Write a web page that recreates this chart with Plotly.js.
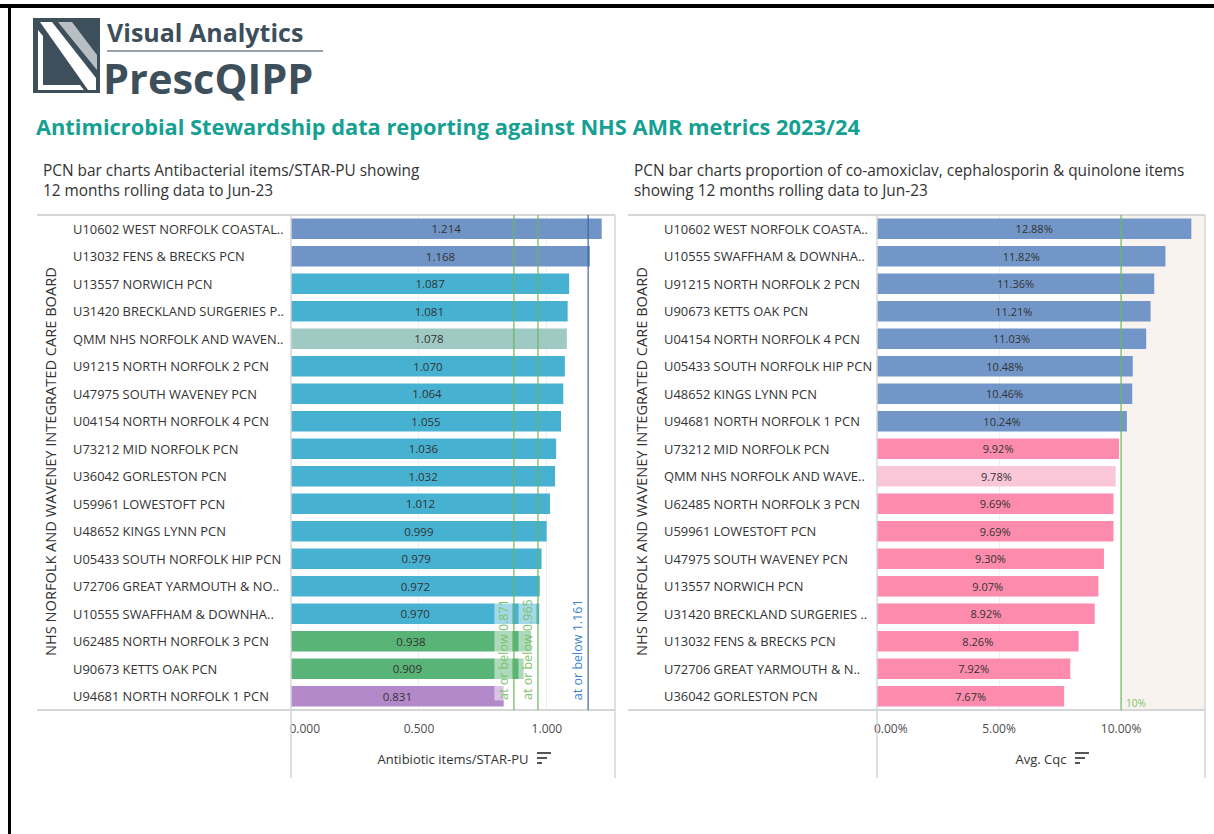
<!DOCTYPE html>
<html>
<head>
<meta charset="utf-8">
<script src="https://cdn.plot.ly/plotly-3.0.1.min.js"></script>
<style>
  html, body { margin: 0; padding: 0; background: #ffffff; }
  #chart { width: 1214px; height: 834px; }
</style>
</head>
<body>
<div id="chart"></div>
<script>
// ---------------- DATA ----------------
const leftCategories = [
  "U10602 WEST NORFOLK COASTAL..",
  "U13032 FENS & BRECKS PCN",
  "U13557 NORWICH PCN",
  "U31420 BRECKLAND SURGERIES P..",
  "QMM NHS NORFOLK AND WAVEN..",
  "U91215 NORTH NORFOLK 2 PCN",
  "U47975 SOUTH WAVENEY PCN",
  "U04154 NORTH NORFOLK 4 PCN",
  "U73212 MID NORFOLK PCN",
  "U36042 GORLESTON PCN",
  "U59961 LOWESTOFT PCN",
  "U48652 KINGS LYNN PCN",
  "U05433 SOUTH NORFOLK HIP PCN",
  "U72706 GREAT YARMOUTH & NO..",
  "U10555 SWAFFHAM & DOWNHA..",
  "U62485 NORTH NORFOLK 3 PCN",
  "U90673 KETTS OAK PCN",
  "U94681 NORTH NORFOLK 1 PCN"
];
const leftValues = [1.214, 1.168, 1.087, 1.081, 1.078, 1.070, 1.064, 1.055, 1.036,
                    1.032, 1.012, 0.999, 0.979, 0.972, 0.970, 0.938, 0.909, 0.831];
const leftGroups = ["above", "above", "mid", "mid", "icb", "mid", "mid", "mid", "mid",
                    "mid", "mid", "mid", "mid", "mid", "mid", "green", "green", "purple"];
const leftThresholds = [0.871, 0.965, 1.161];
const leftThresholdLabels = ["at or below 0.871", "at or below 0.965", "at or below 1.161"];
const leftTickVals = [0, 0.5, 1.0];
const leftTickText = ["\u2007\u2007\u2007\u20070.000", "0.500", "1.000"];

const rightCategories = [
  "U10602 WEST NORFOLK COASTA..",
  "U10555 SWAFFHAM & DOWNHA..",
  "U91215 NORTH NORFOLK 2 PCN",
  "U90673 KETTS OAK PCN",
  "U04154 NORTH NORFOLK 4 PCN",
  "U05433 SOUTH NORFOLK HIP PCN",
  "U48652 KINGS LYNN PCN",
  "U94681 NORTH NORFOLK 1 PCN",
  "U73212 MID NORFOLK PCN",
  "QMM NHS NORFOLK AND WAVE..",
  "U62485 NORTH NORFOLK 3 PCN",
  "U59961 LOWESTOFT PCN",
  "U47975 SOUTH WAVENEY PCN",
  "U13557 NORWICH PCN",
  "U31420 BRECKLAND SURGERIES ..",
  "U13032 FENS & BRECKS PCN",
  "U72706 GREAT YARMOUTH & N..",
  "U36042 GORLESTON PCN"
];
const rightValues = [12.88, 11.82, 11.36, 11.21, 11.03, 10.48, 10.46, 10.24, 9.92,
                     9.78, 9.69, 9.69, 9.30, 9.07, 8.92, 8.26, 7.92, 7.67];
const rightGroups = ["above", "above", "above", "above", "above", "above", "above", "above", "below",
                     "icb", "below", "below", "below", "below", "below", "below", "below", "below"];
const rightThreshold = 10;
const rightThresholdLabel = "10%";
const rightTickVals = [0, 5, 10];
const rightTickText = ["\u2007\u2007\u2007\u20070.00%", "5.00%", "10.00%"];

// ---------------- STYLE ----------------
const leftColors = { above: "#7094c6", mid: "#47b1d1", icb: "#9fc9c3", green: "#58b477", purple: "#b389ca" };
const rightColors = { above: "#7196c7", below: "#fc8bae", icb: "#f9c7d8" };

const W = 1214, H = 834;
const X = p => p / W;
const Y = p => 1 - p / H;
const FONT = "Open Sans, Noto Sans, sans-serif";
const LINE = "#d6d6d6";

const plotTop = 215, plotBottom = 710, axisBottom = 778;
const leftX0 = 291, leftX1 = 615, rightX0 = 877, rightX1 = 1205;
const leftMax = 1.266, rightMax = 13.44;

const traces = [
  {
    type: "bar", orientation: "h",
    y: leftCategories, x: leftValues,
    xaxis: "x", yaxis: "y",
    marker: { color: leftGroups.map(g => leftColors[g]) },
    width: 0.74,
    text: leftValues.map(v => v.toFixed(3)),
    textposition: "inside", insidetextanchor: "middle",
    insidetextfont: { family: FONT, size: 11.5, color: "#333333" },
    constraintext: "none",
    hoverinfo: "y+x", showlegend: false
  },
  {
    type: "bar", orientation: "h",
    y: rightCategories, x: rightValues,
    xaxis: "x2", yaxis: "y2",
    marker: { color: rightGroups.map(g => rightColors[g]) },
    width: 0.74,
    text: rightValues.map(v => v.toFixed(2) + "%"),
    textposition: "inside", insidetextanchor: "middle",
    insidetextfont: { family: FONT, size: 11, color: "#333333" },
    constraintext: "none",
    hoverinfo: "y+x", showlegend: false
  }
];

const shapes = [];
const annotations = [];

// outer black frame (top and left)
shapes.push({ type: "rect", xref: "paper", yref: "paper", x0: X(0), x1: X(W), y0: Y(8), y1: Y(4), fillcolor: "#000", line: { width: 0 } });
shapes.push({ type: "rect", xref: "paper", yref: "paper", x0: X(8), x1: X(11), y0: Y(H), y1: Y(4), fillcolor: "#000", line: { width: 0 } });

// logo icon
const logoDark = "#3e4f5c";
shapes.push({ type: "rect", xref: "paper", yref: "paper", x0: X(33), x1: X(100), y0: Y(93), y1: Y(18), fillcolor: logoDark, line: { width: 0 } });
function pathPx(pts) {
  return "M" + pts.map(p => X(p[0]) + "," + Y(p[1])).join(" L") + " Z";
}
shapes.push({ type: "path", xref: "paper", yref: "paper", path: pathPx([[40, 22], [52, 22], [96, 78], [96, 90], [88, 90]]), fillcolor: "#ffffff", line: { width: 0 } });
shapes.push({ type: "path", xref: "paper", yref: "paper", path: pathPx([[58, 22], [72, 22], [97, 55], [97, 70]]), fillcolor: "#b7bec4", line: { width: 0 } });
shapes.push({ type: "path", xref: "paper", yref: "paper", path: pathPx([[38, 30], [43, 36], [43, 85], [80, 85], [84, 90], [38, 90]]), fillcolor: "#ffffff", line: { width: 0 } });
shapes.push({ type: "line", xref: "paper", yref: "paper", x0: X(107), x1: X(323), y0: Y(51), y1: Y(51), line: { color: "#9aa3aa", width: 2 } });
annotations.push({ xref: "paper", yref: "paper", x: X(105), y: Y(32), xanchor: "left", yanchor: "middle", showarrow: false,
  text: "<b>Visual Analytics</b>", font: { family: FONT, size: 25, color: logoDark } });
annotations.push({ xref: "paper", yref: "paper", x: X(101), y: Y(78), xanchor: "left", yanchor: "middle", showarrow: false,
  text: "<b>PrescQIPP</b>", font: { family: FONT, size: 41.5, color: logoDark } });

// subtitles
annotations.push({ xref: "paper", yref: "paper", x: X(41), y: Y(180), xanchor: "left", yanchor: "middle", align: "left", showarrow: false,
  text: "PCN bar charts Antibacterial items/STAR-PU showing<br>12 months rolling data to Jun-23", font: { family: FONT, size: 15.4, color: "#333333" } });
annotations.push({ xref: "paper", yref: "paper", x: X(632), y: Y(180), xanchor: "left", yanchor: "middle", align: "left", showarrow: false,
  text: "PCN bar charts proportion of co-amoxiclav, cephalosporin &amp; quinolone items<br>showing 12 months rolling data to Jun-23", font: { family: FONT, size: 15.4, color: "#333333" } });

// frame lines for both panes
function paneLines(lx, x0, x1) {
  shapes.push({ type: "line", xref: "paper", yref: "paper", x0: X(lx), x1: X(x1), y0: Y(plotTop), y1: Y(plotTop), line: { color: LINE, width: 2 } });
  shapes.push({ type: "line", xref: "paper", yref: "paper", x0: X(lx), x1: X(x1), y0: Y(plotBottom), y1: Y(plotBottom), line: { color: LINE, width: 2 } });
  shapes.push({ type: "line", xref: "paper", yref: "paper", x0: X(x0), x1: X(x0), y0: Y(axisBottom), y1: Y(plotTop), line: { color: LINE, width: 1.5 } });
  shapes.push({ type: "line", xref: "paper", yref: "paper", x0: X(x1), x1: X(x1), y0: Y(axisBottom), y1: Y(plotTop), line: { color: LINE, width: 1.5 } });
}
paneLines(37, leftX0, leftX1);
paneLines(628, rightX0, rightX1);

// right pane shaded region beyond the 10% target
shapes.push({ type: "rect", xref: "x2", yref: "paper", x0: rightThreshold, x1: rightMax, y0: Y(plotBottom), y1: Y(plotTop),
  fillcolor: "#f8f3ef", line: { width: 0 }, layer: "below" });

// reference lines
const refColors = ["#6cb65a", "#6cb65a", "#3f63a3"];
const refTextColors = ["#7cc36a", "#7cc36a", "#3a86d0"];
leftThresholds.forEach((t, i) => {
  shapes.push({ type: "line", xref: "x", yref: "paper", x0: t, x1: t, y0: Y(plotBottom), y1: Y(plotTop),
    line: { color: refColors[i], width: 1.2 }, layer: "above" });
  annotations.push({ xref: "x", yref: "paper", x: t, y: Y(701), xanchor: "right", yanchor: "bottom", xshift: -1,
    textangle: -90, showarrow: false, text: leftThresholdLabels[i],
    bgcolor: i < 2 ? "rgba(255,255,255,0.5)" : "rgba(255,255,255,0)", borderpad: 0,
    font: { family: FONT, size: 12.5, color: refTextColors[i] } });
});
shapes.push({ type: "line", xref: "x2", yref: "paper", x0: rightThreshold, x1: rightThreshold, y0: Y(plotBottom), y1: Y(plotTop),
  line: { color: "#6cb65a", width: 1.2 }, layer: "above" });
annotations.push({ xref: "x2", yref: "paper", x: rightThreshold, y: Y(703), xanchor: "left", yanchor: "middle", xshift: 3,
  showarrow: false, text: rightThresholdLabel, font: { family: FONT, size: 10, color: "#7cc36a" } });

// row labels (left aligned)
leftCategories.forEach(c => annotations.push({ xref: "paper", yref: "y", x: X(71), y: c, xanchor: "left", yanchor: "middle",
  showarrow: false, text: c.replace(/&/g, "&amp;"), font: { family: FONT, size: 12.9, color: "#333333" } }));
rightCategories.forEach(c => annotations.push({ xref: "paper", yref: "y2", x: X(662), y: c, xanchor: "left", yanchor: "middle",
  showarrow: false, text: c.replace(/&/g, "&amp;"), font: { family: FONT, size: 12.9, color: "#333333" } }));

// vertical group headers
[50, 641].forEach(px => annotations.push({ xref: "paper", yref: "paper", x: X(px), y: Y(462), xanchor: "center", yanchor: "middle",
  textangle: -90, showarrow: false, text: "NHS NORFOLK AND WAVENEY INTEGRATED CARE BOARD",
  font: { family: FONT, size: 14.6, color: "#333333" } }));

// sort icons next to axis titles
function sortIcon(x, y) {
  [[0, 14], [0, 10], [0, 5]].forEach((seg, k) => {
    shapes.push({ type: "line", xref: "paper", yref: "paper", x0: X(x + seg[0]), x1: X(x + seg[1]), y0: Y(y + k * 5), y1: Y(y + k * 5),
      line: { color: "#555555", width: 2 } });
  });
}
sortIcon(537, 753);
sortIcon(1075, 753);

const layout = {
  width: W, height: H,
  margin: { l: 0, r: 0, t: 0, b: 0, pad: 0 },
  paper_bgcolor: "#ffffff", plot_bgcolor: "rgba(0,0,0,0)",
  font: { family: FONT, color: "#333333" },
  title: { text: "<b>Antimicrobial Stewardship data reporting against NHS AMR metrics 2023/24</b>",
    x: X(36), xanchor: "left", xref: "paper", y: Y(127), yanchor: "middle", yref: "paper",
    font: { family: FONT, size: 21.8, color: "#14a092" } },
  bargap: 0.26,
  xaxis: {
    domain: [X(leftX0), X(leftX1)], range: [0, leftMax], anchor: "y",
    tickvals: leftTickVals, ticktext: leftTickText, ticks: "", ticklabelstandoff: 10,
    tickfont: { family: FONT, size: 12, color: "#4d4d4d" },
    showgrid: true, gridcolor: "#efefef", gridwidth: 1, zeroline: false, showline: false,
    title: { text: "Antibiotic items/STAR-PU", standoff: 18, font: { family: FONT, size: 13, color: "#333333" } },
    fixedrange: true
  },
  yaxis: {
    domain: [Y(plotBottom), Y(plotTop)], anchor: "x", type: "category",
    categoryorder: "array", categoryarray: leftCategories, autorange: "reversed",
    showticklabels: false, ticks: "", showgrid: false, zeroline: false, showline: false, fixedrange: true
  },
  xaxis2: {
    domain: [X(rightX0), X(rightX1)], range: [0, rightMax], anchor: "y2",
    tickvals: rightTickVals, ticktext: rightTickText, ticks: "", ticklabelstandoff: 10,
    tickfont: { family: FONT, size: 12, color: "#4d4d4d" },
    showgrid: true, gridcolor: "#efefef", gridwidth: 1, zeroline: false, showline: false,
    title: { text: "Avg. Cqc", standoff: 18, font: { family: FONT, size: 13, color: "#333333" } },
    fixedrange: true
  },
  yaxis2: {
    domain: [Y(plotBottom), Y(plotTop)], anchor: "x2", type: "category",
    categoryorder: "array", categoryarray: rightCategories, autorange: "reversed",
    showticklabels: false, ticks: "", showgrid: false, zeroline: false, showline: false, fixedrange: true
  },
  shapes: shapes,
  annotations: annotations
};

Plotly.newPlot("chart", traces, layout, { displayModeBar: false, staticPlot: false, responsive: false });
</script>
</body>
</html>
